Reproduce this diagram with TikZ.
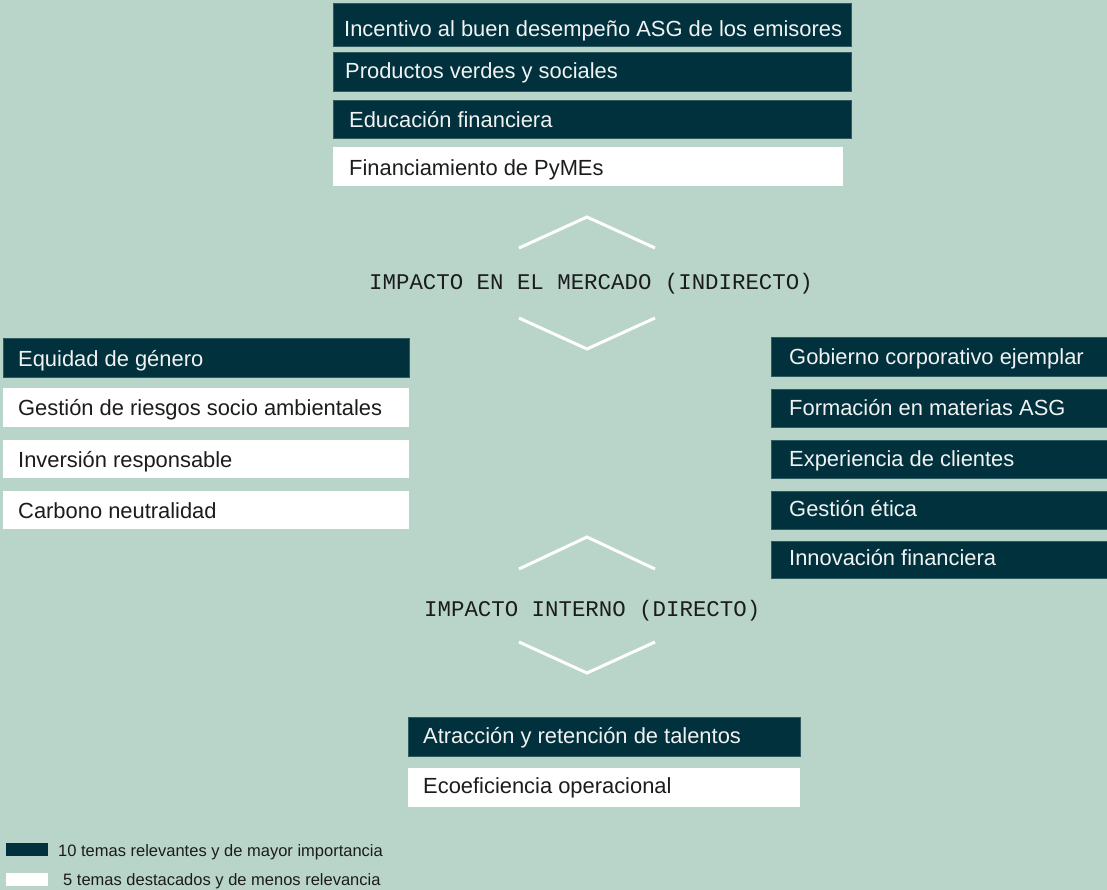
\documentclass[tikz,border=0pt]{standalone}
\usepackage{fontspec}
\setmainfont{Liberation Sans}
\newfontfamily\monof{Liberation Mono}
\definecolor{bgc}{HTML}{B9D5CA}
\definecolor{darkc}{HTML}{00313D}
\definecolor{txtd}{HTML}{1C1C1C}
\definecolor{txtl}{HTML}{F2F2F2}
\tikzset{
  darkbox/.style={fill=darkc, draw=darkc!75!bgc, line width=0.8pt},
  lightbox/.style={fill=white},
  ltxt/.style={anchor=base west, inner sep=0pt, text=txtl, font=\fontsize{21.9}{26}\selectfont},
  dtxt/.style={anchor=base west, inner sep=0pt, text=txtd, font=\fontsize{21.9}{26}\selectfont},
  mono/.style={anchor=base west, inner sep=0pt, text=txtd, font=\monof\fontsize{22.4}{26}\selectfont},
  legtxt/.style={anchor=base west, inner sep=0pt, text=txtd, font=\fontsize{16.5}{20}\selectfont},
  chev/.style={draw=white, line width=3pt}
}
\begin{document}
\begin{tikzpicture}[x=1pt,y=-1pt]
\useasboundingbox (0,0) rectangle (1107,890);
\fill[bgc] (0,0) rectangle (1107,890);

% top group
\filldraw[darkbox] (333,3) rectangle (851,46);
\node[ltxt] (t1) at (344,37) {Incentivo al buen desempeño ASG de los emisores};
\filldraw[darkbox] (333,52) rectangle (851,91);
\node[ltxt] (t2) at (345,79) {Productos verdes y sociales};
\filldraw[darkbox] (333,100) rectangle (851,138);
\node[ltxt] (t3) at (349,128) {Educación financiera};
\fill[lightbox] (333,147) rectangle (843,186);
\node[dtxt] (t4) at (349,176) {Financiamiento de PyMEs};

% chevrons and label 1
\draw[chev] (519,248) -- (587,217) -- (655,248);
\node[mono] (m1) at (369,290) {IMPACTO EN EL MERCADO (INDIRECTO)};
\draw[chev] (519,318) -- (587,349) -- (655,318);

% left group
\filldraw[darkbox] (3,338) rectangle (409,377);
\node[ltxt] (l1) at (18,366) {Equidad de género};
\fill[lightbox] (3,388) rectangle (409,427);
\node[dtxt] (l2) at (18,415) {Gestión de riesgos socio ambientales};
\fill[lightbox] (3,440) rectangle (409,478);
\node[dtxt] (l3) at (18,467) {Inversión responsable};
\fill[lightbox] (3,491) rectangle (409,529);
\node[dtxt] (l4) at (18,518) {Carbono neutralidad};

% right group
\filldraw[darkbox] (771,337) rectangle (1108,376);
\node[ltxt] (r1) at (789,364) {Gobierno corporativo ejemplar};
\filldraw[darkbox] (771,389) rectangle (1108,427);
\node[ltxt] (r2) at (789,415) {Formación en materias ASG};
\filldraw[darkbox] (771,440) rectangle (1108,478);
\node[ltxt] (r3) at (789,466) {Experiencia de clientes};
\filldraw[darkbox] (771,491) rectangle (1108,529);
\node[ltxt] (r4) at (789,516) {Gestión ética};
\filldraw[darkbox] (771,541) rectangle (1108,578);
\node[ltxt] (r5) at (789,565) {Innovación financiera};

% chevrons and label 2
\draw[chev] (519,569) -- (587,537) -- (655,569);
\node[mono] (m2) at (424,616) {IMPACTO INTERNO (DIRECTO)};
\draw[chev] (519,642) -- (587,673) -- (655,642);

% bottom group
\filldraw[darkbox] (408,717) rectangle (800,756);
\node[ltxt] (b1) at (423,743) {Atracción y retención de talentos};
\fill[lightbox] (408,768) rectangle (800,807);
\node[dtxt] (b2) at (423,793) {Ecoeficiencia operacional};

% legend
\fill[darkc] (6,843) rectangle (48,856);
\node[legtxt] (g1) at (58,856) {10 temas relevantes y de mayor importancia};
\fill[white] (6,873) rectangle (48,886);
\node[legtxt] (g2) at (63,885) {5 temas destacados y de menos relevancia};
\end{tikzpicture}
\end{document}
